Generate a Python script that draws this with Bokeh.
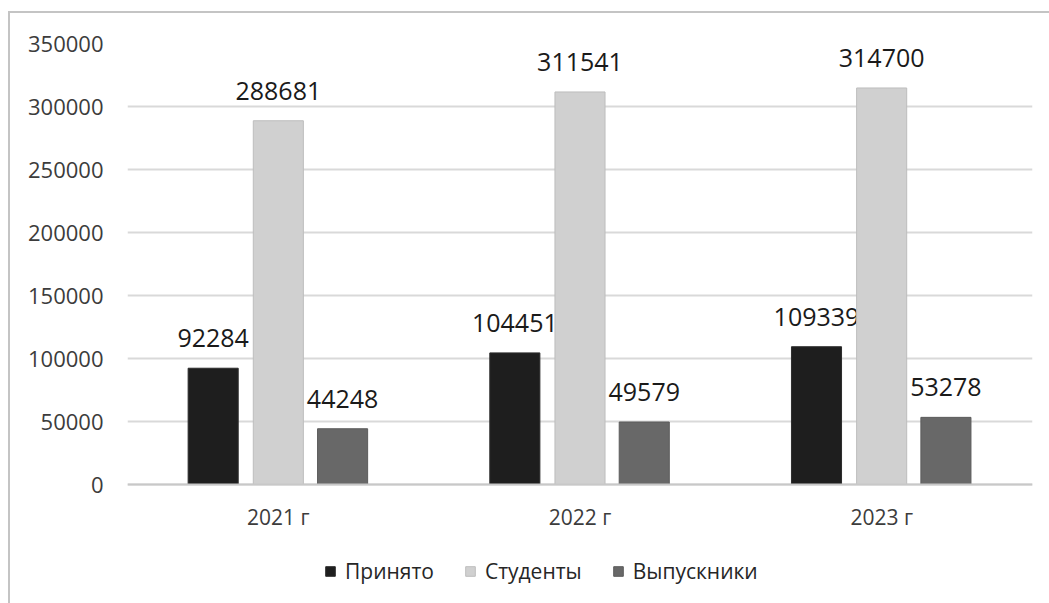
from bokeh.plotting import figure
from bokeh.models import (ColumnDataSource, FactorRange, Range1d, Legend, LegendItem,
                          FixedTicker, BasicTickFormatter)
from bokeh.transform import dodge
from bokeh.core.properties import value
from bokeh.embed import file_html
from bokeh.resources import INLINE

years = ["2021 г", "2022 г", "2023 г"]
prinyato = [92284, 104451, 109339]
studenty = [288681, 311541, 314700]
vypuskniki = [44248, 49579, 53278]
series_names = ["Принято", "Студенты", "Выпускники"]
y_ticks = [0, 50000, 100000, 150000, 200000, 250000, 300000, 350000]

FONT = "Open Sans"

# layout geometry (pixels)
W, H = 1049, 603
TOP, BOTTOM, LEFT, RIGHT = 43, 3, 127, 17
VALUE_H = 441                      # pixel height of the 0..350000 value band
FRAME_H = H - TOP - BOTTOM
y_max = y_ticks[-1]
y_min = -y_max * (FRAME_H - VALUE_H) / VALUE_H   # room below zero for labels and legend

src = ColumnDataSource(dict(
    years=years, prinyato=prinyato, studenty=studenty, vypuskniki=vypuskniki,
    l_prinyato=[str(v) for v in prinyato],
    l_studenty=[str(v) for v in studenty],
    l_vypuskniki=[str(v) for v in vypuskniki],
))

p = figure(x_range=FactorRange(*years), y_range=Range1d(y_min, y_max),
           width=W, height=H, output_backend="svg", toolbar_location=None,
           min_border_left=LEFT, min_border_right=RIGHT, min_border_top=TOP, min_border_bottom=BOTTOM)
p.outline_line_color = None
p.background_fill_color = "white"
p.border_fill_color = None
# chart-area border (top and left edges) drawn as the host element background
p.styles = {
    "background": "linear-gradient(#c4c4c4, #c4c4c4) 8px 11px / 3000px 2px no-repeat, "
                  "linear-gradient(#c4c4c4, #c4c4c4) 8px 11px / 2px 3000px no-repeat, white"
}

cols = ["prinyato", "studenty", "vypuskniki"]
fills = ["#1e1e1e", "#d0d0d0", "#686868"]
lines = ["#2c2c2c", "#bdbdbd", "#5c5c5c"]
offsets = [-0.216, 0.0, 0.213]
renderers = []
for c, f, lc, off in zip(cols, fills, lines, offsets):
    r = p.vbar(x=dodge("years", off, range=p.x_range), top=c, bottom=0, width=0.166, source=src,
               fill_color=f, line_color=lc, line_width=1)
    renderers.append(r)
    p.text(x=dodge("years", off, range=p.x_range), y=c, text="l_" + c, source=src,
           text_align="center", text_baseline="alphabetic", y_offset=-30,
           text_font=value(FONT), text_font_size="25px", text_color="#1a1a1a")

# axes
p.yaxis.ticker = FixedTicker(ticks=y_ticks)
p.yaxis.formatter = BasicTickFormatter(use_scientific=False)
p.yaxis.axis_line_color = None
p.yaxis.major_tick_line_color = None
p.yaxis.minor_tick_line_color = None
p.yaxis.major_tick_out = 0
p.yaxis.major_label_standoff = 24
p.yaxis.major_label_text_font = FONT
p.yaxis.major_label_text_font_size = "22px"
p.yaxis.major_label_text_color = "#3c3c3c"

p.xaxis.fixed_location = 0
p.xaxis.axis_line_color = "#c8c8c8"
p.xaxis.axis_line_width = 2
p.xaxis.major_tick_line_color = None
p.xaxis.major_tick_out = 0
p.xaxis.minor_tick_line_color = None
p.xaxis.major_label_standoff = 18
p.xaxis.major_label_text_font = FONT
p.xaxis.major_label_text_font_size = "21px"
p.xaxis.major_label_text_color = "#3c3c3c"

p.xgrid.grid_line_color = None
p.ygrid.grid_line_color = "#d9d9d9"
p.ygrid.grid_line_width = 2

legend = Legend(items=[LegendItem(label=n, renderers=[r]) for n, r in zip(series_names, renderers)],
                orientation="horizontal", location=(197, 15),
                glyph_width=12, glyph_height=12, label_standoff=9, spacing=30,
                padding=0, margin=0, border_line_color=None, background_fill_alpha=0,
                label_text_font=FONT, label_text_font_size="21px", label_text_color="#262626")
p.add_layout(legend, "center")

open("out.html", "w").write(file_html(p, INLINE))
